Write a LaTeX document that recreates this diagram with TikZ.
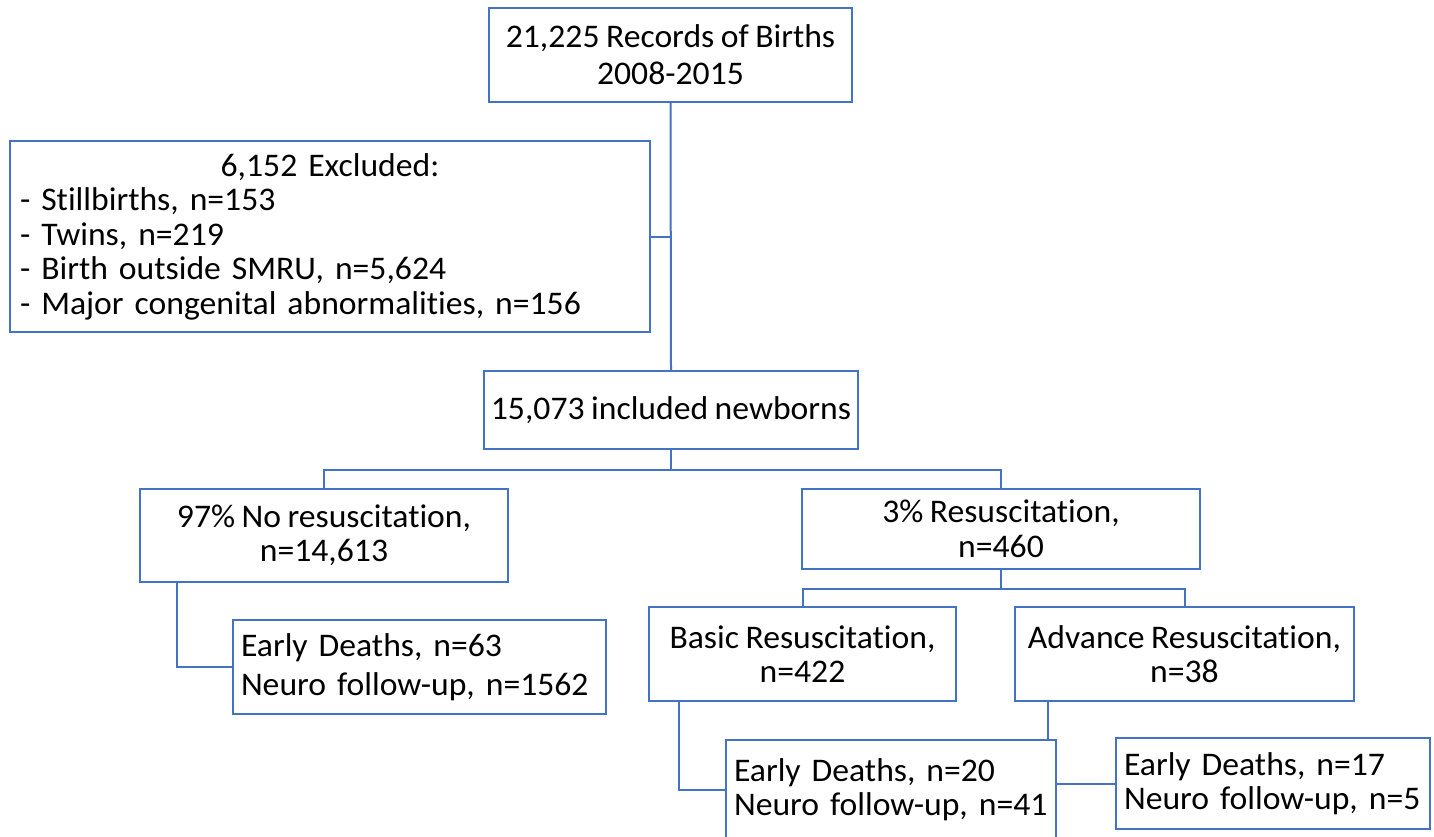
\documentclass[tikz,border=0pt]{standalone}
\usepackage{fontspec}
\setmainfont{Carlito}[FakeStretch=1.02, WordSpace=0.85, Ligatures=NoCommon]
\usepackage{tikz}
\usetikzlibrary{calc}
\definecolor{boxblue}{HTML}{4472C4}

\begin{document}
\begin{tikzpicture}[
        x=1pt, y=-1pt,
        box/.style={rectangle, draw=boxblue, line width=2pt, inner sep=0pt, align=center, font=\fontsize{33}{34.5}\selectfont},
        lbox/.style={rectangle, draw=boxblue, line width=2pt, inner xsep=8pt, inner ysep=0pt, align=left, font=\fontsize{33}{34.5}\selectfont},
        conn/.style={draw=boxblue, line width=2pt}
    ]
        \useasboundingbox (0,0) rectangle (1434,837);

        % Records and exclusions
        \node[box, minimum width=363pt, minimum height=94pt] (records) at (670.5,55) {21,225 Records of Births\\[2.5pt]2008-2015};
        \node[lbox, inner xsep=10pt, text width=620pt, minimum height=191pt] (excl) at (330,236.5) {\makebox[620pt]{6,152 Excluded:}\\- Stillbirths, n=153\\- Twins, n=219\\- Birth outside SMRU, n=5,624\\- Major congenital abnormalities, n=156};
        \node[box, minimum width=374pt, minimum height=78pt] (incl) at (671,410) {15,073 included newborns};

        % Resuscitation groups
        \node[box, minimum width=368pt, minimum height=93pt] (nores) at (324,535.5) {97\% No resuscitation,\\n=14,613};
        \node[box, minimum width=398pt, minimum height=80pt] (resus) at (1001,529) {3\% Resuscitation,\\n=460};
        \node[box, minimum width=307pt, minimum height=94pt] (basic) at (802.5,654) {Basic Resuscitation,\\n=422};
        \node[box, minimum width=339pt, minimum height=94pt] (adv) at (1184.5,654) {Advance Resuscitation,\\n=38};

        % Outcomes
        \node[lbox, text width=357pt, minimum height=94pt] (deathsA) at (419.5,667) {Early Deaths, n=63\\[4pt]Neuro follow-up, n=1562};
        \node[lbox, text width=314pt, minimum height=99pt] (deathsB) at (891,789.5) {Early Deaths, n=20\\Neuro follow-up, n=41};
        \node[lbox, text width=298pt, minimum height=91pt] (deathsC) at (1273,783.5) {Early Deaths, n=17\\Neuro follow-up, n=5};

        % Main trunk
        \draw[conn] (records.south) -- (incl.north);
        \draw[conn] (excl.east) -- (excl.east -| records.south);

        % Splits
        \draw[conn] (incl.south) -- ++(0,20) -| (nores.north);
        \draw[conn] (incl.south) -- ++(0,20) -| (resus.north);
        \draw[conn] (resus.south) -- ++(0,19) -| (basic.north);
        \draw[conn] (resus.south) -- ++(0,19) -| (adv.north);

        % Outcome links
        \draw[conn] ($(nores.south west)+(38,0)$) |- (deathsA.west);
        \draw[conn] ($(basic.south west)+(31,0)$) |- (deathsB.west);
        \coordinate (advdrop) at ($(adv.south west)+(34,0)$);
        \draw[conn] (advdrop) -- (advdrop |- deathsB.north);
        \draw[conn] (deathsB.east |- deathsC.west) -- (deathsC.west);
    \end{tikzpicture}
\end{document}
